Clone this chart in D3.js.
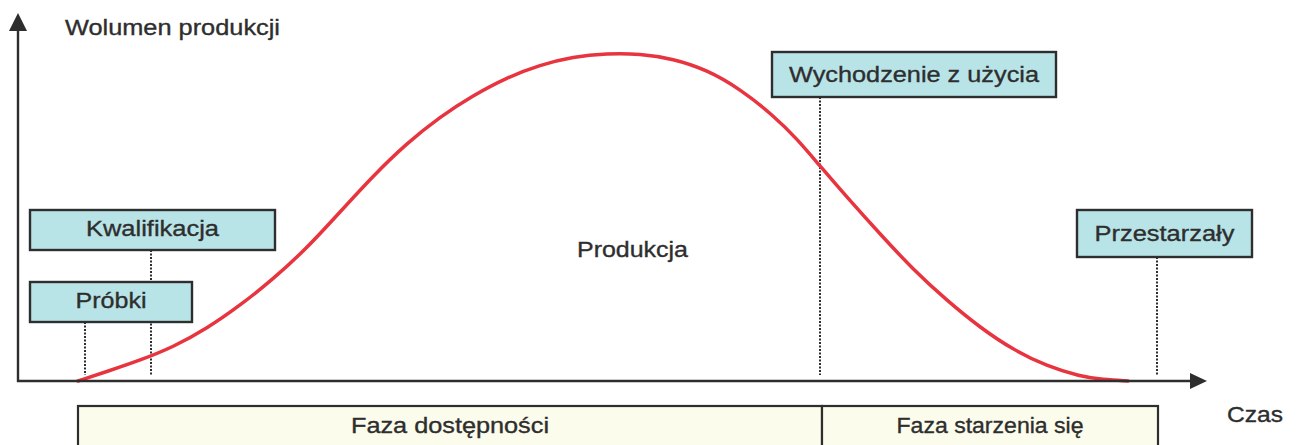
<!DOCTYPE html>
<html>
<head>
<meta charset="utf-8">
<script src="https://cdn.jsdelivr.net/npm/d3@7"></script>
<style>
  body { margin: 0; background: #fff; }
  text { font-family: "Liberation Sans", Arial, sans-serif; fill: #2e2e2e; stroke: #2e2e2e; stroke-width: 0.35px; }
</style>
</head>
<body>
<div id="my_dataviz"></div>
<script>
// production volume curve (time in arbitrary units, volume in % of peak)
var timeVals   = [6.0, 9.0, 12.2, 15.5, 18.9, 22.2, 25.5, 28.9, 32.2, 35.5, 38.9, 42.2, 45.5, 48.9, 52.2, 55.5, 58.9, 62.2, 65.5, 68.9, 72.2, 75.5, 77.9, 80.2, 82.9, 86.2, 89.5, 92.9, 96.2, 99.5, 102.9, 106.2, 108.5, 111.0];
var volumeVals = [0, 3.0, 6.3, 10.3, 16.0, 23.0, 31.0, 40.5, 51.5, 62.5, 72.5, 80.5, 87.0, 92.5, 96.3, 98.8, 99.8, 99.7, 98.2, 94.8, 89.0, 81.0, 73.8, 65.5, 56.0, 44.8, 34.0, 24.5, 16.3, 9.5, 4.5, 1.4, 0.4, 0];

// milestones on the time axis
var milestones     = ["Próbki", "Kwalifikacja", "Wychodzenie z użycia", "Przestarzały"];
var milestoneTimes = [6.7, 13.3, 80.2, 113.9];

// phases below the axis
var phases      = ["Faza dostępności", "Faza starzenia się"];
var phaseBounds = [6.0, 80.4, 114.0];

var axisTitleY = "Wolumen produkcji";
var axisTitleX = "Czas";
var areaLabel  = "Produkcja";

// layout of the label boxes (pixels)
var boxLayout = [
  {x0: 30,   x1: 192,  y0: 282, y1: 322, tl: 71,  by: 308},
  {x0: 30,   x1: 275,  y0: 210, y1: 250, tl: 133, by: 236},
  {x0: 772,  x1: 1056, y0: 52,  y1: 97,  tl: 250, by: 82},
  {x0: 1077, x1: 1252, y0: 210, y1: 257, tl: 140, by: 241}
];

var W = 1300, H = 445;

var svg = d3.select("#my_dataviz")
  .append("svg")
    .attr("width", W)
    .attr("height", H);

var x = d3.scaleLinear().domain([0, 119]).range([18, 1208]);
var y = d3.scaleLinear().domain([0, 110]).range([381, 20]);

var ink = "#2e2e2e";

// phase boxes at the bottom
var phaseData = phases.map(function(p, i) { return {name: p, t0: phaseBounds[i], t1: phaseBounds[i + 1]}; });
svg.selectAll(".phase")
  .data(phaseData)
  .enter().append("rect")
    .attr("class", "phase")
    .attr("x", function(d) { return x(d.t0); })
    .attr("y", 406)
    .attr("width", function(d) { return x(d.t1) - x(d.t0); })
    .attr("height", 60)
    .style("fill", "#fcfcec")
    .style("stroke", ink)
    .style("stroke-width", 2.2);

var phaseWidths = [198, 187];
svg.selectAll(".phaseLabel")
  .data(phaseData)
  .enter().append("text")
    .attr("class", "phaseLabel")
    .attr("x", function(d, i) { return (x(d.t0) + x(d.t1)) / 2 - phaseWidths[i] / 2; })
    .attr("y", 433)
    .attr("textLength", function(d, i) { return phaseWidths[i]; })
    .attr("lengthAdjust", "spacingAndGlyphs")
    .style("font-size", "22px")
    .text(function(d) { return d.name; });

// dotted drop lines from the milestone boxes
svg.selectAll(".drop")
  .data(milestoneTimes)
  .enter().append("line")
    .attr("class", "drop")
    .attr("x1", function(d) { return x(d); })
    .attr("x2", function(d) { return x(d); })
    .attr("y1", function(d, i) { return boxLayout[i].y1; })
    .attr("y2", 375)
    .style("stroke", ink)
    .style("stroke-width", 2)
    .style("stroke-dasharray", "2,1.5");

// the production curve
var line = d3.line()
  .x(function(d) { return x(d[0]); })
  .y(function(d) { return y(d[1]); })
  .curve(d3.curveBasis);

svg.append("path")
  .datum(timeVals.map(function(t, i) { return [t, volumeVals[i]]; }))
  .attr("d", line)
  .style("fill", "none")
  .style("stroke", "#e8343f")
  .style("stroke-width", 3.5)
  .style("stroke-linecap", "round");

// axes with arrow heads
svg.append("line")
  .attr("x1", x(0)).attr("x2", x(0))
  .attr("y1", y(0) + 1).attr("y2", 28)
  .style("stroke", ink).style("stroke-width", 2.4);
svg.append("path")
  .attr("d", "M" + x(0) + ",13 L" + (x(0) - 9) + ",31 L" + (x(0) + 9) + ",31 Z")
  .style("fill", ink);

svg.append("line")
  .attr("x1", x(0) - 1).attr("x2", 1194)
  .attr("y1", y(0)).attr("y2", y(0))
  .style("stroke", ink).style("stroke-width", 2.4);
svg.append("path")
  .attr("d", "M1207," + y(0) + " L1190," + (y(0) - 8) + " L1190," + (y(0) + 8) + " Z")
  .style("fill", ink);

// milestone boxes
var boxes = svg.selectAll(".milestone")
  .data(milestones)
  .enter().append("g")
    .attr("class", "milestone");

boxes.append("rect")
  .attr("x", function(d, i) { return boxLayout[i].x0; })
  .attr("y", function(d, i) { return boxLayout[i].y0; })
  .attr("width", function(d, i) { return boxLayout[i].x1 - boxLayout[i].x0; })
  .attr("height", function(d, i) { return boxLayout[i].y1 - boxLayout[i].y0; })
  .style("fill", "#b8e4e8")
  .style("stroke", ink)
  .style("stroke-width", 2.4);

boxes.append("text")
  .attr("x", function(d, i) { return (boxLayout[i].x0 + boxLayout[i].x1) / 2 - boxLayout[i].tl / 2; })
  .attr("y", function(d, i) { return boxLayout[i].by; })
  .attr("textLength", function(d, i) { return boxLayout[i].tl; })
  .attr("lengthAdjust", "spacingAndGlyphs")
  .style("font-size", "22px")
  .text(function(d) { return d; });

// titles
svg.append("text")
  .attr("x", 65).attr("y", 35)
  .attr("textLength", 215).attr("lengthAdjust", "spacingAndGlyphs")
  .style("font-size", "22px")
  .text(axisTitleY);

svg.append("text")
  .attr("x", 1227).attr("y", 422)
  .attr("textLength", 56).attr("lengthAdjust", "spacingAndGlyphs")
  .style("font-size", "22px")
  .text(axisTitleX);

svg.append("text")
  .attr("x", 577).attr("y", 257)
  .attr("textLength", 111).attr("lengthAdjust", "spacingAndGlyphs")
  .style("font-size", "22px")
  .text(areaLabel);
</script>
</body>
</html>
